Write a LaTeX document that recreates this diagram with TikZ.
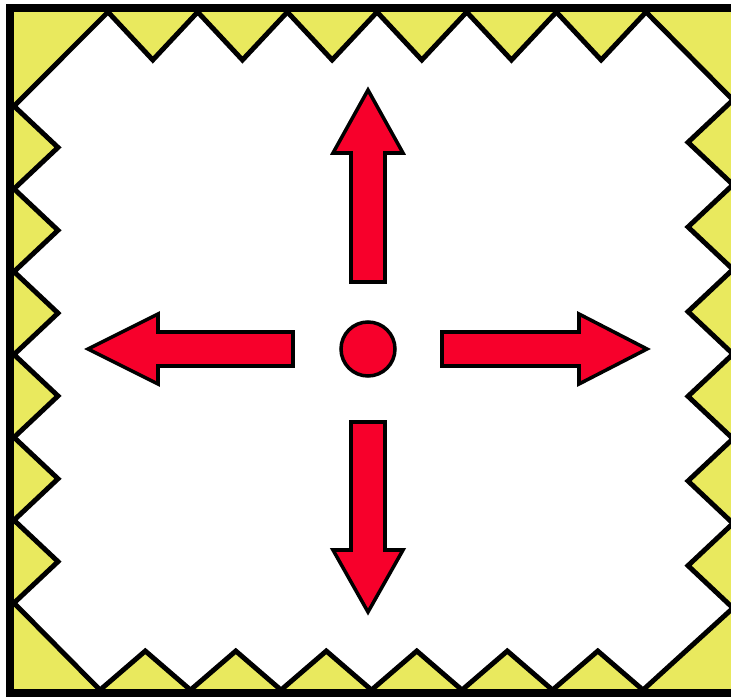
\documentclass[tikz,border=0pt]{standalone}
\usepackage{tikz}
\usetikzlibrary{positioning}
\definecolor{wallyel}{HTML}{E9E95E}
\definecolor{arrred}{HTML}{F7002B}

\begin{document}
\begin{tikzpicture}[x=0.02cm,y=-0.02cm,
  zigzag/.style={fill=white,draw=black,line width=2.8pt,line join=miter},
  arrowbody/.style={fill=arrred,draw=black,line width=2pt,line join=miter}]
  \useasboundingbox (0,0) rectangle (731,699);
  \clip (0,0) rectangle (731,699);
  % yellow wall and the jagged inner edge
  \fill[wallyel] (10,8) rectangle (737,693);
  \draw[zigzag] (108,12)
    \foreach \i in {0,...,5} { -- ({152.8+89.67*\i},60) -- ({197.7+89.67*\i},12) }
    -- (733,100)
    \foreach \j in {0,...,5} { -- (688,{142.3+84.67*\j}) -- (733,{184.7+84.67*\j}) }
    -- (643,690)
    \foreach \i in {0,...,5} { -- ({597.8-90.5*\i},651) -- ({552.5-90.5*\i},690) }
    -- (14,603)
    \foreach \j in {0,...,5} { -- (58,{561.6-82.83*\j}) -- (14,{520.2-82.83*\j}) }
    -- cycle;
  \draw[line width=5pt] (10,8) rectangle (737,693);
  % source in the middle
  \node[circle,draw,fill=arrred,line width=2pt,minimum size=1.08cm,inner sep=0pt] (hub) at (368,349) {};
  \foreach \ang/\start/\base/\tip in {0/74/211/279, 90/67/196/259, 180/75/210/280, 270/73/201/263}
    \draw[arrowbody,shift={(hub.center)},rotate=\ang]
      (\start,-17) -- (\base,-17) -- (\base,-35) -- (\tip,0)
      -- (\base,35) -- (\base,17) -- (\start,17) -- cycle;
\end{tikzpicture}
\end{document}
